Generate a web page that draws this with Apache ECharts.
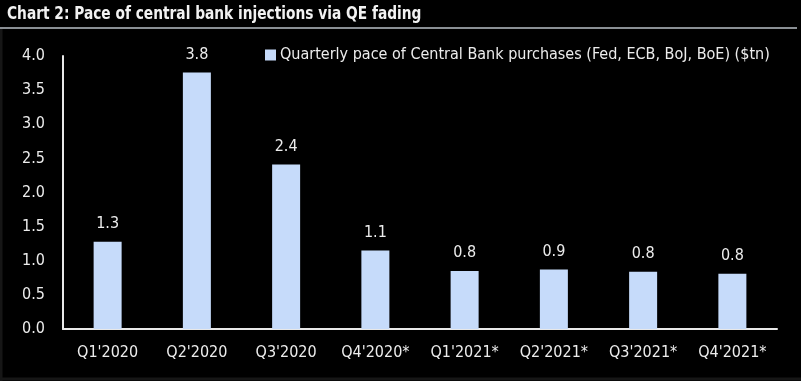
<!DOCTYPE html>
<html>
<head>
<meta charset="utf-8">
<script src="https://cdn.jsdelivr.net/npm/echarts@6/dist/echarts.min.js"></script>
<style>
html,body{margin:0;padding:0;background:#000;}
#c{width:801px;height:381px;}
</style>
</head>
<body>
<div id="c"></div>
<script>
var categories = ["Q1'2020","Q2'2020","Q3'2020","Q4'2020*","Q1'2021*","Q2'2021*","Q3'2021*","Q4'2021*"];
var values = [1.28, 3.76, 2.41, 1.15, 0.85, 0.87, 0.84, 0.81];
var seriesName = "Quarterly pace of Central Bank purchases (Fed, ECB, BoJ, BoE) ($tn)";
var titleText = "Chart 2: Pace of central bank injections via QE fading";

var FONT = "'Liberation Sans Narrow', 'DejaVu Sans Condensed', sans-serif";
var chart = echarts.init(document.getElementById('c'), null, {renderer:'canvas'});
chart.setOption({
  backgroundColor: '#000',
  animation: false,
  graphic: [
    {type:'text', left: 7, top: 5, scaleX: 0.85,
      style:{text:titleText, fill:'#f2f2f2', fontSize:18, fontWeight:'bold', fontFamily:FONT}},
    {type:'line', shape:{x1:0,y1:28,x2:797,y2:28}, style:{stroke:'#8a8f94', lineWidth:2}},
    {type:'line', shape:{x1:0,y1:379,x2:801,y2:379}, style:{stroke:'#161616', lineWidth:3}},
    {type:'line', shape:{x1:1,y1:29,x2:1,y2:381}, style:{stroke:'#161616', lineWidth:3}}
  ],
  legend: {
    left: 260, top: 42,
    itemWidth: 11, itemHeight: 11, itemGap: 5,
    icon: 'rect',
    textStyle: {color:'#ececec', fontSize:16, fontFamily:FONT, padding:[0,0,0,-1]},
    data: [seriesName]
  },
  grid: {left:63, right:24, top:56, bottom:52, containLabel:false},
  xAxis: {
    type:'category',
    data: categories,
    axisLine:{lineStyle:{color:'#e8e8e8', width:2}},
    axisTick:{show:false},
    axisLabel:{color:'#ececec', fontSize:16, fontFamily:FONT, margin:16, interval:0}
  },
  yAxis: {
    type:'value', min:0, max:4, interval:0.5,
    axisLine:{show:true, lineStyle:{color:'#e8e8e8', width:2}},
    axisTick:{show:false},
    splitLine:{show:false},
    axisLabel:{color:'#ececec', fontSize:16, fontFamily:FONT, margin:18,
      formatter:function(v){return v.toFixed(1);}}
  },
  series: [{
    name: seriesName,
    type:'bar',
    data: values,
    barWidth: 28,
    itemStyle:{color:'#c6dbfa'},
    label:{show:true, position:'top', distance:10, color:'#ececec', fontSize:16, fontFamily:FONT,
      formatter:function(p){return p.value.toFixed(1);}}
  }]
});
</script>
</body>
</html>
